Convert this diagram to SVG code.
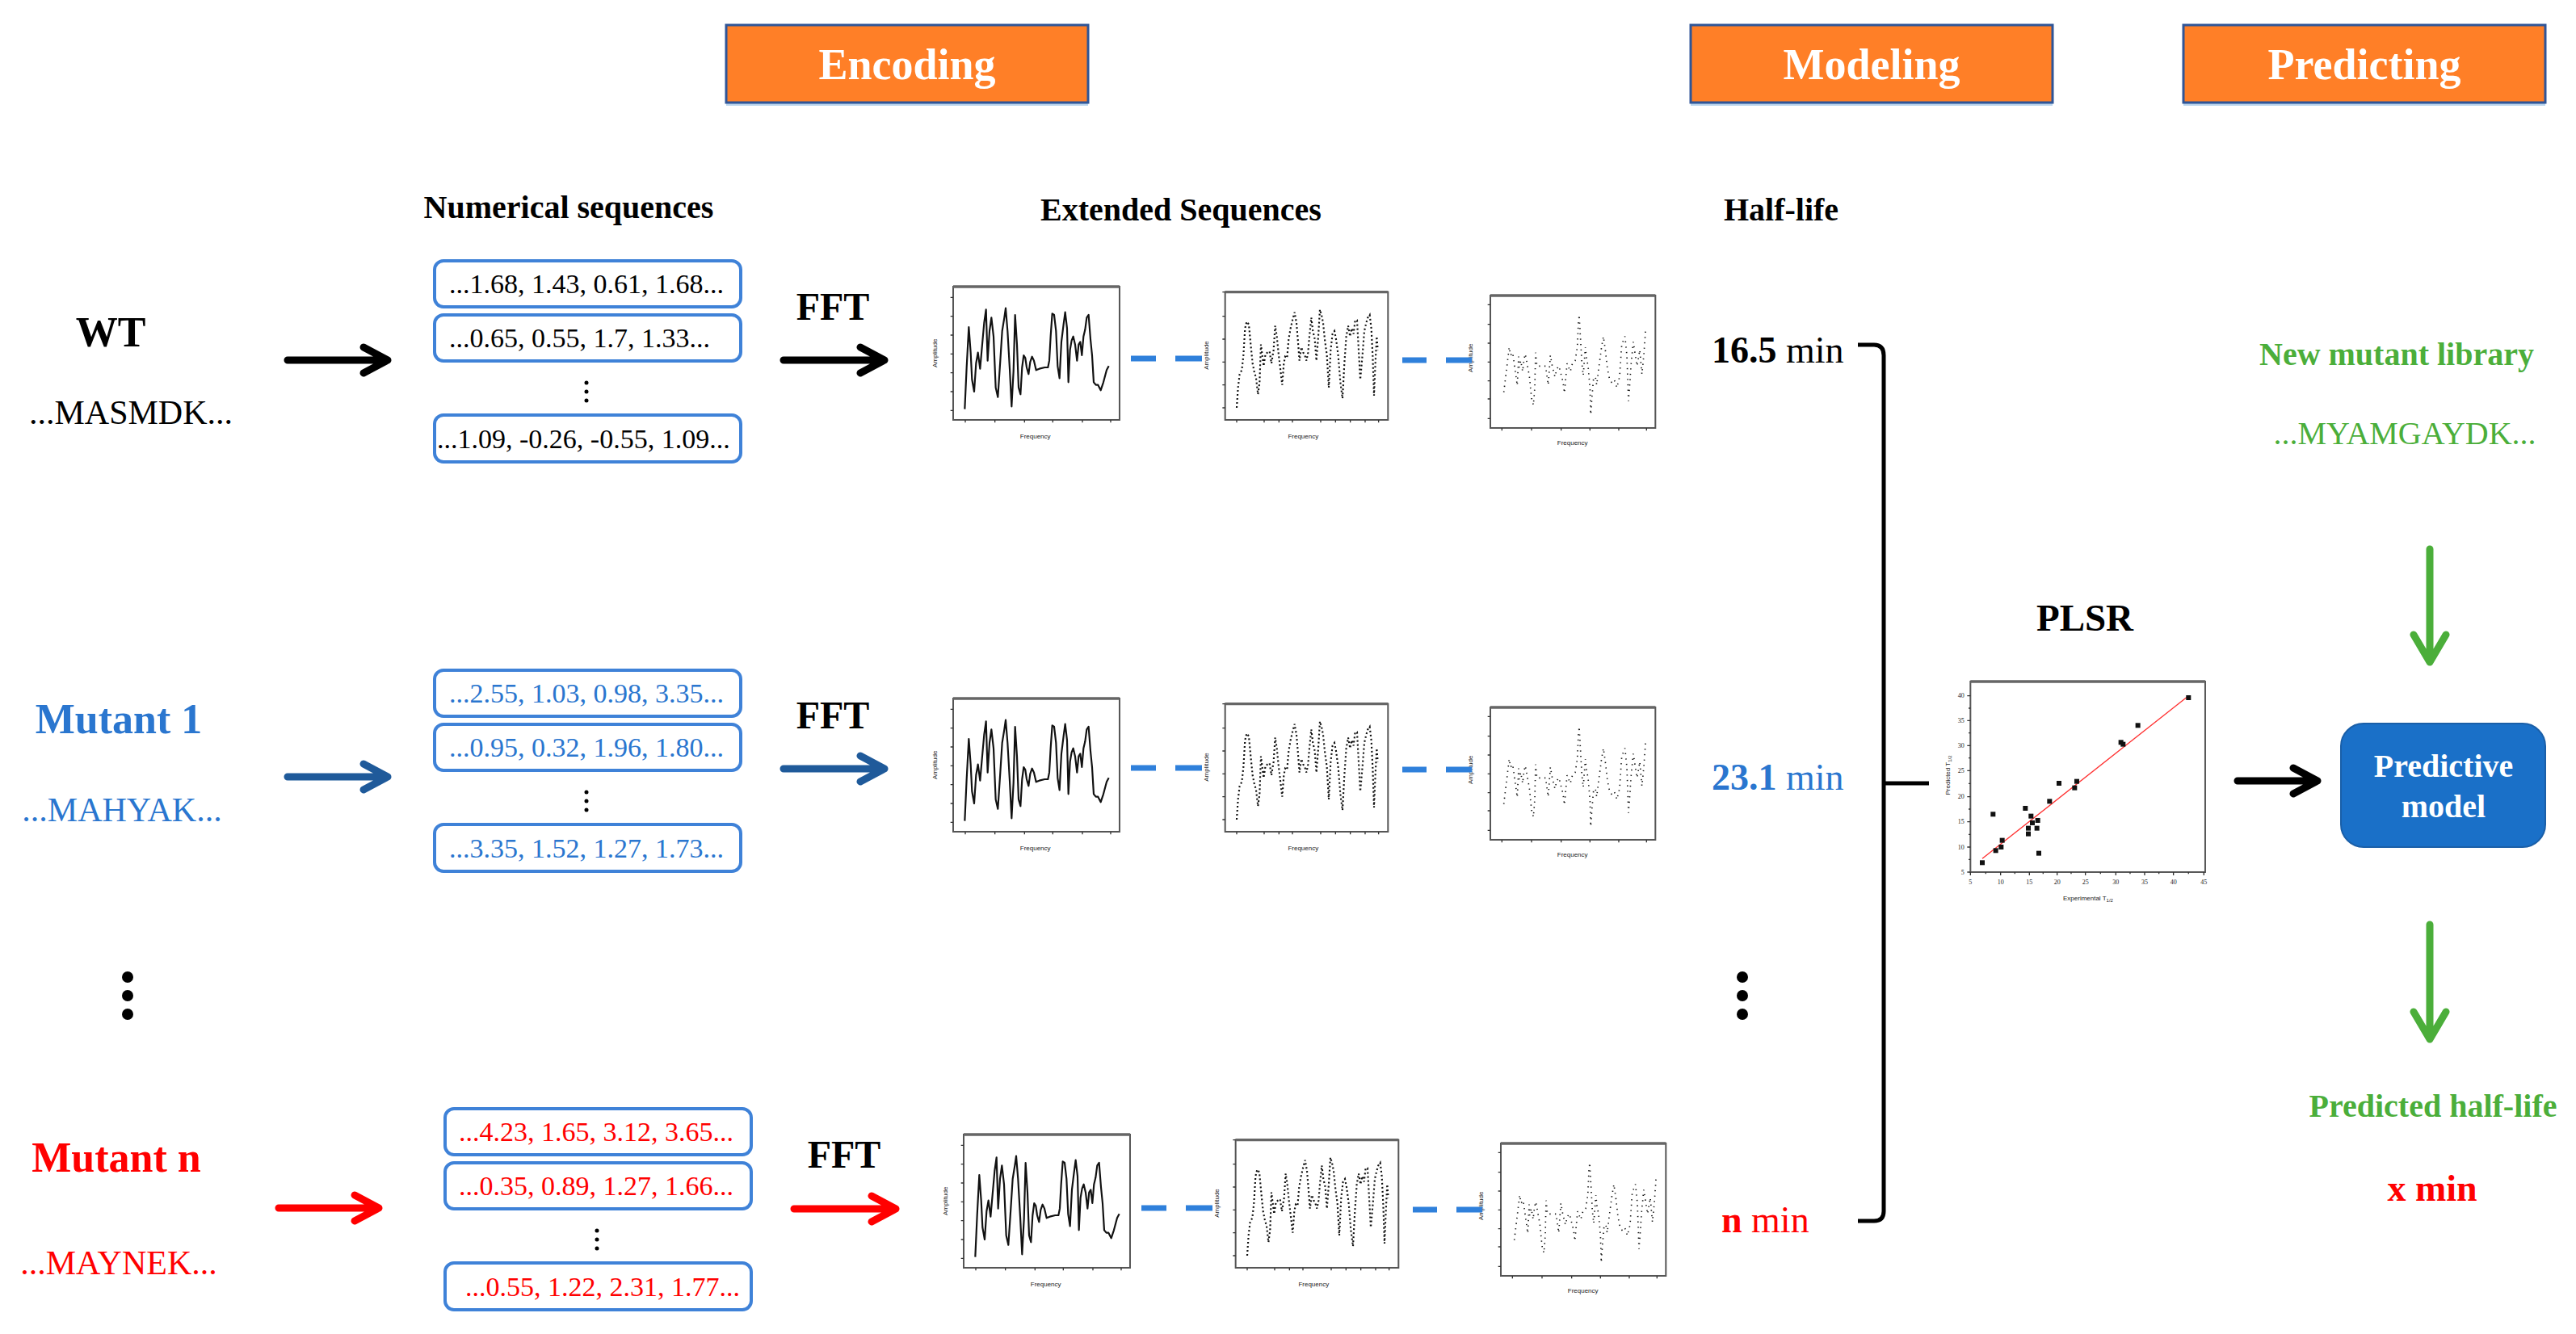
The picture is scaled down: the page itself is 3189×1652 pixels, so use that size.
<svg xmlns="http://www.w3.org/2000/svg" xmlns:xlink="http://www.w3.org/1999/xlink" width="3189" height="1652" viewBox="0 0 3189 1652">
<style>
text{font-family:"Liberation Serif","Times New Roman",serif}
.h{font-size:54px;font-weight:bold;fill:#fff;text-anchor:middle}
.hbox{fill:#FF7F27;stroke:#2F5597;stroke-width:3}
.hsh{fill:#BDD7EE}
.sec{font-size:40px;font-weight:bold;text-anchor:middle;fill:#000}
.seq{font-size:34px}
.lbl{font-size:52px;font-weight:bold;text-anchor:middle}
.aa{font-size:42px;text-anchor:middle}
.fft{font-size:48px;font-weight:bold;text-anchor:middle;fill:#000}
.hl{font-size:46px}
.box{fill:#fff;stroke:#3F82D8;stroke-width:4}
.arr{fill:none;stroke-width:9;stroke-linecap:round;stroke-linejoin:round}
.dash{stroke:#2F80DB;stroke-width:7}
.blue{fill:#2A76CF}
.red{fill:#FF0000}
.green{fill:#4BAE3A}
.ax{font-family:"Liberation Sans",Arial,sans-serif;font-size:24px;fill:#222}
.tk{stroke:#333;stroke-width:4;fill:none}
.frame{fill:#fff;stroke:#555;stroke-width:6}
</style>
<defs>
<g id="spec1">
<rect class="frame" x="90" y="45" width="618" height="495"/>
<line x1="90" y1="45" x2="708" y2="45" stroke="#666" stroke-width="10"/>
<path class="tk" d="M90 85h-10M90 155h-10M90 225h-10M90 295h-10M90 365h-10M90 435h-10M90 505h-10M135 540v10M245 540v10M355 540v10M460 540v10M570 540v10M675 540v10"/>
<polyline fill="none" stroke="#111" stroke-width="6.5" stroke-linejoin="round" points="133,500 140,345 148,195 155,290 160,390 168,435 175,330 182,290 190,350 197,270 205,180 212,130 218,320 225,210 232,160 240,230 248,420 256,455 265,320 272,210 280,160 285,125 292,210 300,350 307,490 314,360 320,150 327,260 333,420 340,445 346,345 352,300 358,310 363,345 370,370 376,325 383,305 390,320 398,355 410,350 430,345 442,345 447,320 452,230 458,145 465,150 472,210 478,340 485,385 492,250 500,185 506,140 513,200 518,400 524,280 530,245 536,230 543,260 550,320 556,260 562,250 568,300 574,230 580,205 586,160 593,150 600,240 606,300 612,400 620,410 628,410 638,430 648,400 660,355 668,340"/>
<text class="ax" x="395" y="608" text-anchor="middle">Frequency</text>
<text class="ax" transform="translate(30,292) rotate(-90)" text-anchor="middle">Amplitude</text>
</g>
<g id="spec2">
<rect class="frame" x="50" y="65" width="605" height="475"/>
<line x1="50" y1="65" x2="655" y2="65" stroke="#666" stroke-width="10"/>
<path class="tk" d="M50 65h-10M50 155h-10M50 240h-10M50 325h-10M50 410h-10M50 495h-10M93 540v10M195 540v10M250 540v10M300 540v10M405 540v10M460 540v10M515 540v10M570 540v10M620 540v10"/>
<polyline fill="none" stroke="#111" stroke-width="6.5" stroke-dasharray="6 9" points="93,495 98,420 104,370 112,355 118,300 124,200 130,175 138,185 145,260 152,330 158,360 165,385 172,445 178,400 183,260 188,300 193,340 200,295 207,290 215,285 222,330 230,280 236,190 242,230 248,290 255,350 262,410 268,330 273,305 280,310 286,240 293,200 300,170 308,140 315,180 320,240 326,320 333,270 340,290 346,300 352,320 358,290 363,230 370,160 376,210 383,240 389,320 396,230 402,130 408,150 414,180 420,240 428,300 435,420 442,280 449,220 456,210 462,240 470,300 478,400 486,460 493,330 500,230 507,190 514,230 520,200 527,220 533,170 540,170 546,280 552,390 560,300 567,210 574,180 580,160 587,150 593,200 598,300 603,450 608,330 613,230 617,280"/>
<text class="ax" x="340" y="610" text-anchor="middle">Frequency</text>
<text class="ax" transform="translate(-12,300) rotate(-90)" text-anchor="middle">Amplitude</text>
</g>
<g id="spec3">
<rect class="frame" x="75" y="78" width="613" height="492"/>
<line x1="75" y1="78" x2="688" y2="78" stroke="#666" stroke-width="10"/>
<path class="tk" d="M75 112h-10M75 185h-10M75 255h-10M75 325h-10M75 395h-10M75 462h-10M75 535h-10M118 570v10M228 570v10M338 570v10M445 570v10M552 570v10M655 570v10"/>
<polyline fill="none" stroke="#111" stroke-width="5" stroke-dasharray="4 16" points="125,437 145,270 150,300 158,290 175,412 180,305 182,345 188,320 195,360 200,315 205,295 220,378 228,460 235,485 240,420 243,290 248,340 260,340 280,340 290,410 298,300 305,340 315,380 322,350 330,340 345,400 350,440 360,330 372,360 380,330 390,320 398,270 402,180 405,150 410,240 415,330 420,375 428,270 432,310 438,340 445,420 448,520 452,460 458,390 465,380 470,410 480,330 488,270 495,230 502,280 510,350 518,390 525,400 535,390 545,420 555,380 563,260 575,230 582,300 585,380 588,470 592,420 598,330 606,250 612,290 620,340 630,280 638,370 645,300 652,200"/>
<text class="ax" x="380" y="632" text-anchor="middle">Frequency</text>
<text class="ax" transform="translate(8,310) rotate(-90)" text-anchor="middle">Amplitude</text>
</g>
</defs>

<rect width="3189" height="1652" fill="#fff"/>

<!-- stage headers -->
<g id="hdr-encoding">
<rect class="hsh" x="899" y="127" width="448" height="4"/>
<rect class="hbox" x="899" y="31" width="448" height="96"/>
<text class="h" x="1123" y="98">Encoding</text>
</g>
<g id="hdr-modeling">
<rect class="hsh" x="2093" y="127" width="448" height="4"/>
<rect class="hbox" x="2093" y="31" width="448" height="96"/>
<text class="h" x="2317" y="98">Modeling</text>
</g>
<g id="hdr-predicting">
<rect class="hsh" x="2703" y="127" width="448" height="4"/>
<rect class="hbox" x="2703" y="31" width="448" height="96"/>
<text class="h" x="2927" y="98">Predicting</text>
</g>

<!-- section titles -->
<g id="titles">
<text class="sec" x="704" y="270">Numerical sequences</text>
<text class="sec" x="1462" y="273">Extended Sequences</text>
<text class="sec" x="2205" y="273">Half-life</text>
</g>

<!-- Row WT -->
<g id="wt-label">
<text class="lbl" x="137" y="429" fill="#000">WT</text>
<text class="aa" x="162" y="525" fill="#000">...MASMDK...</text>
</g>
<g id="wt-seqs">
<rect class="box" x="538" y="323" width="379" height="57" rx="11"/>
<rect class="box" x="538" y="390" width="379" height="57" rx="11"/>
<rect class="box" x="538" y="514" width="379" height="58" rx="11"/>
<text class="seq" x="556" y="363">...1.68, 1.43, 0.61, 1.68...</text>
<text class="seq" x="556" y="430">...0.65, 0.55, 1.7, 1.33...</text>
<text class="seq" x="541" y="555">...1.09, -0.26, -0.55, 1.09...</text>
<circle cx="726" cy="474" r="2.5"/><circle cx="726" cy="485" r="2.5"/><circle cx="726" cy="496" r="2.5"/>
</g>
<g id="wt-fft"><text class="fft" x="1031" y="396">FFT</text></g>
<g id="wt-spectra">
<use xlink:href="#spec1" transform="translate(1150,340) scale(0.3333)"/>
<use xlink:href="#spec2" transform="translate(1500,340) scale(0.3333)"/>
<use xlink:href="#spec3" transform="translate(1820,340) scale(0.3333)"/>
</g>
<g id="wt-halflife"><text class="hl" x="2119" y="449" fill="#000"><tspan font-weight="bold">16.5</tspan> min</text></g>

<!-- Row Mutant 1 -->
<g id="m1-label">
<text class="lbl blue" x="147" y="908">Mutant 1</text>
<text class="aa blue" x="151" y="1017">...MAHYAK...</text>
</g>
<g id="m1-seqs">
<rect class="box" x="538" y="830" width="379" height="57" rx="11"/>
<rect class="box" x="538" y="897" width="379" height="57" rx="11"/>
<rect class="box" x="538" y="1021" width="379" height="58" rx="11"/>
<text class="seq blue" x="556" y="870">...2.55, 1.03, 0.98, 3.35...</text>
<text class="seq blue" x="556" y="937">...0.95, 0.32, 1.96, 1.80...</text>
<text class="seq blue" x="556" y="1062">...3.35, 1.52, 1.27, 1.73...</text>
<circle cx="726" cy="981" r="2.5"/><circle cx="726" cy="992" r="2.5"/><circle cx="726" cy="1003" r="2.5"/>
</g>
<g id="m1-fft"><text class="fft" x="1031" y="902">FFT</text></g>
<g id="m1-spectra">
<use xlink:href="#spec1" transform="translate(1150,850) scale(0.3333)"/>
<use xlink:href="#spec2" transform="translate(1500,850) scale(0.3333)"/>
<use xlink:href="#spec3" transform="translate(1820,850) scale(0.3333)"/>
</g>
<g id="m1-halflife"><text class="hl blue" x="2119" y="978"><tspan font-weight="bold">23.1</tspan> min</text></g>

<!-- ellipses -->
<g id="ellipsis-left"><circle cx="158" cy="1210" r="7"/><circle cx="158" cy="1233" r="7"/><circle cx="158" cy="1256" r="7"/></g>
<g id="ellipsis-mid"><circle cx="2157" cy="1210" r="7"/><circle cx="2157" cy="1233" r="7"/><circle cx="2157" cy="1256" r="7"/></g>

<!-- Row Mutant n -->
<g id="mn-label">
<text class="lbl red" x="144" y="1451">Mutant n</text>
<text class="aa red" x="147" y="1578">...MAYNEK...</text>
</g>
<g id="mn-seqs">
<rect class="box" x="551" y="1373" width="379" height="57" rx="11"/>
<rect class="box" x="551" y="1440" width="379" height="57" rx="11"/>
<rect class="box" x="551" y="1564" width="379" height="58" rx="11"/>
<text class="seq red" x="568" y="1413">...4.23, 1.65, 3.12, 3.65...</text>
<text class="seq red" x="568" y="1480">...0.35, 0.89, 1.27, 1.66...</text>
<text class="seq red" x="576" y="1605">...0.55, 1.22, 2.31, 1.77...</text>
<circle cx="739" cy="1524" r="2.5"/><circle cx="739" cy="1535" r="2.5"/><circle cx="739" cy="1546" r="2.5"/>
</g>
<g id="mn-fft"><text class="fft" x="1045" y="1446">FFT</text></g>
<g id="mn-spectra">
<use xlink:href="#spec1" transform="translate(1163,1390) scale(0.3333)"/>
<use xlink:href="#spec2" transform="translate(1513,1390) scale(0.3333)"/>
<use xlink:href="#spec3" transform="translate(1833,1390) scale(0.3333)"/>
</g>
<g id="mn-halflife"><text class="hl red" x="2131" y="1526"><tspan font-weight="bold">n</tspan> min</text></g>

<!-- PLSR -->
<g id="plsr-label"><text x="2581" y="781" font-size="47" font-weight="bold" text-anchor="middle">PLSR</text></g>
<g id="plsr-chart" transform="translate(2380,820) scale(0.3333)">
<rect class="frame" x="178" y="72" width="872" height="708"/>
<line x1="178" y1="72" x2="1050" y2="72" stroke="#666" stroke-width="10"/>
<path class="tk" d="M178 125h-12M178 171h-7M178 217h-12M178 263h-7M178 310h-12M178 356h-7M178 403h-12M178 451h-7M178 500h-12M178 546h-7M178 593h-12M178 640h-7M178 687h-12M178 733h-7M178 780h-12M178 780v12M235 780v7M290 780v12M343 780v7M397 780v12M448 780v7M500 780v12M552 780v7M605 780v12M661 780v7M718 780v12M771 780v7M825 780v12M878 780v7M932 780v12M988 780v7M1045 780v12"/>
<g class="ax" text-anchor="end">
<text x="155" y="133">40</text><text x="155" y="225">35</text><text x="155" y="318">30</text><text x="155" y="411">25</text><text x="155" y="508">20</text><text x="155" y="601">15</text><text x="155" y="695">10</text><text x="155" y="788">5</text>
</g>
<g class="ax" text-anchor="middle">
<text x="178" y="825">5</text><text x="290" y="825">10</text><text x="397" y="825">15</text><text x="500" y="825">20</text><text x="605" y="825">25</text><text x="718" y="825">30</text><text x="825" y="825">35</text><text x="932" y="825">40</text><text x="1045" y="825">45</text>
</g>
<text class="ax" x="615" y="885" text-anchor="middle" font-size="30">Experimental T<tspan font-size="18" dy="6">1/2</tspan></text>
<text class="ax" transform="translate(102,420) rotate(-90)" text-anchor="middle" font-size="30">Predicted T<tspan font-size="18" dy="6">1/2</tspan></text>
<line x1="222" y1="730" x2="988" y2="125" stroke="#FF3030" stroke-width="4"/>
<g fill="#111">
<rect x="213" y="736" width="18" height="18"/><rect x="253" y="556" width="18" height="18"/><rect x="263" y="691" width="18" height="18"/><rect x="283" y="678" width="18" height="18"/><rect x="287" y="653" width="18" height="18"/><rect x="373" y="534" width="18" height="18"/><rect x="384" y="608" width="18" height="18"/><rect x="384" y="629" width="18" height="18"/><rect x="394" y="563" width="18" height="18"/><rect x="399" y="588" width="18" height="18"/><rect x="419" y="579" width="18" height="18"/><rect x="416" y="608" width="18" height="18"/><rect x="423" y="701" width="18" height="18"/><rect x="463" y="508" width="18" height="18"/><rect x="498" y="441" width="18" height="18"/><rect x="556" y="458" width="18" height="18"/><rect x="564" y="434" width="18" height="18"/><rect x="728" y="289" width="18" height="18"/><rect x="736" y="296" width="18" height="18"/><rect x="791" y="226" width="18" height="18"/><rect x="979" y="123" width="18" height="18"/>
</g>
</g>

<!-- Predictive model -->
<g id="predictive-model">
<rect x="2898" y="896" width="253" height="153" rx="28" fill="#1A70C8" stroke="#1A5FA8" stroke-width="2"/>
<text x="3025" y="962" font-size="40" font-weight="bold" fill="#fff" text-anchor="middle">Predictive</text>
<text x="3025" y="1012" font-size="40" font-weight="bold" fill="#fff" text-anchor="middle">model</text>
</g>

<!-- Predicting column texts -->
<g id="new-library">
<text class="green" x="2967" y="452" font-size="40" font-weight="bold" text-anchor="middle">New mutant library</text>
<text class="green" x="2977" y="550" font-size="40" text-anchor="middle">...MYAMGAYDK...</text>
</g>
<g id="predicted-halflife">
<text class="green" x="3012" y="1383" font-size="40" font-weight="bold" text-anchor="middle">Predicted half-life</text>
<text class="red" x="3011" y="1487" font-size="46" font-weight="bold" text-anchor="middle">x min</text>
</g>

<!-- connectors -->
<g id="connectors">
<path class="arr" stroke="#000" d="M356 446H480M450 430L480 446L450 462"/>
<path class="arr" stroke="#000" d="M970 446H1095M1065 430L1095 446L1065 462"/>
<path class="arr" stroke="#1F5A9A" d="M356 962H480M450 946L480 962L450 978"/>
<path class="arr" stroke="#1F5A9A" d="M970 952H1095M1065 936L1095 952L1065 968"/>
<path class="arr" stroke="#FF0000" d="M345 1496H469M439 1480L469 1496L439 1512"/>
<path class="arr" stroke="#FF0000" d="M983 1497H1109M1079 1481L1109 1497L1079 1513"/>
<path class="arr" stroke="#000" d="M2770 967H2869M2839 951L2869 967L2839 983"/>
<path class="arr" stroke="#4BAE3A" stroke-width="7" d="M3008 680V820M2988 786L3008 820L3028 786"/>
<path class="arr" stroke="#4BAE3A" stroke-width="7" d="M3008 1145V1287M2988 1253L3008 1287L3028 1253"/>
<path class="dash" d="M1400 444H1431M1455 444H1488M1736 446H1766M1790 446H1822"/>
<path class="dash" d="M1400 951H1431M1455 951H1488M1736 953H1766M1790 953H1822"/>
<path class="dash" d="M1413 1496H1444M1468 1496H1501M1749 1498H1779M1803 1498H1835"/>
<path fill="none" stroke="#000" stroke-width="5" stroke-linejoin="round" d="M2300 427H2320Q2332 427 2332 440V1500Q2332 1512 2320 1512H2300M2332 970H2388"/>
</g>
</svg>
